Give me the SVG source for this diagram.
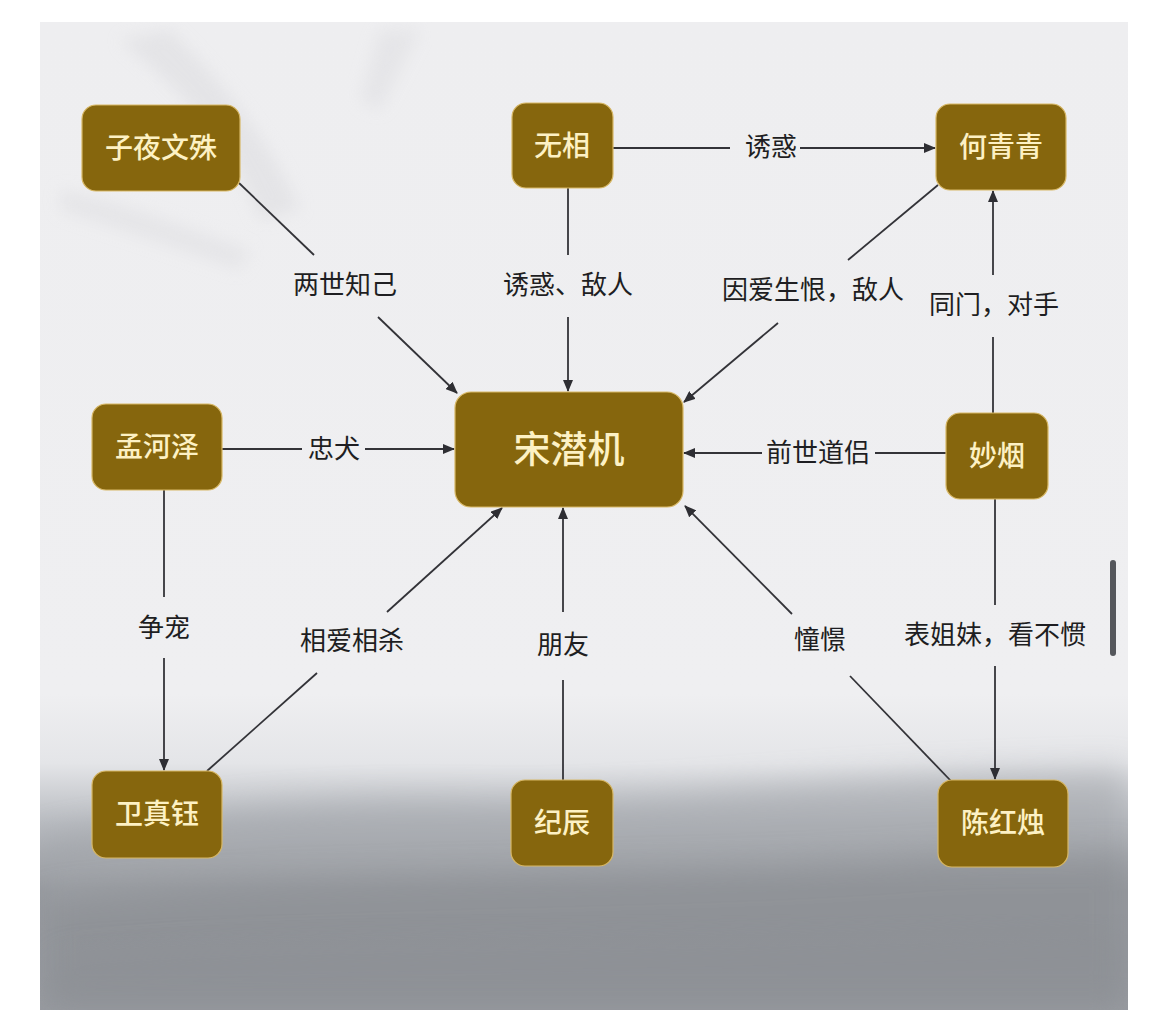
<svg xmlns="http://www.w3.org/2000/svg" width="1170" height="1023" viewBox="0 0 1170 1023">
<defs>
<linearGradient id="bg" x1="0" y1="0" x2="0" y2="1">
<stop offset="0" stop-color="#eeeef0"/>
<stop offset="0.68" stop-color="#efeff1"/>
<stop offset="0.75" stop-color="#e4e5e8"/>
<stop offset="0.81" stop-color="#b9bcc1"/>
<stop offset="0.88" stop-color="#94979c"/>
<stop offset="1" stop-color="#9a9da2"/>
</linearGradient>
<filter id="blur" x="-20%" y="-20%" width="140%" height="140%"><feGaussianBlur stdDeviation="16"/></filter>
<filter id="blur2" x="-20%" y="-20%" width="140%" height="140%"><feGaussianBlur stdDeviation="8"/></filter>
<clipPath id="panel"><rect x="40" y="22" width="1088" height="988"/></clipPath>
<marker id="arr" markerWidth="12" markerHeight="10" refX="11" refY="5" orient="auto" markerUnits="userSpaceOnUse">
<path d="M0,0 L12,5 L0,10 z" fill="#2e2e33"/>
</marker>
</defs>
<style>
.node rect.box{fill:#86660d;stroke:#d8b866;stroke-width:1.2}
.node text{font-family:"Noto Sans CJK SC","Noto Sans",sans-serif;font-size:28px;font-weight:500;fill:#fdf1c4;text-anchor:middle}
.edge line{stroke:#333338;stroke-width:1.8}
.lbl{font-family:"Noto Sans CJK SC","Noto Sans",sans-serif;font-size:26px;fill:#1e1e22;text-anchor:middle}
</style>
<rect width="1170" height="1023" fill="#ffffff"/>
<g id="background" clip-path="url(#panel)">
<rect x="40" y="22" width="1088" height="988" fill="url(#bg)"/>
<path d="M120,40 C180,90 230,140 260,220 L300,210 C270,140 220,80 170,30 z" fill="#dedee1" filter="url(#blur2)" opacity="0.6"/>
<path d="M60,210 C120,230 180,250 240,270 L250,250 C190,230 120,200 60,190 z" fill="#e0e0e3" filter="url(#blur2)" opacity="0.6"/>
<path d="M380,30 L420,30 L380,110 L360,100 z" fill="#e2e2e5" filter="url(#blur2)" opacity="0.7"/>
<path d="M40,840 C200,810 330,795 480,800 C650,805 800,775 1128,770 L1128,1010 L40,1010 z" fill="#a3a6ab" filter="url(#blur)" opacity="0.6"/>
<path d="M40,900 C300,870 600,880 900,860 C1000,850 1080,860 1128,850 L1128,1010 L40,1010 z" fill="#85888d" filter="url(#blur)" opacity="0.55"/>
<path d="M60,960 C300,940 600,950 1128,930 L1128,1010 L40,1010 z" fill="#8c8f94" filter="url(#blur)" opacity="0.5"/>
</g>
<rect x="1110" y="560" width="6" height="96" rx="3" fill="#55575c"/>
<g id="connectors" class="edge">
<line x1="239" y1="183" x2="314" y2="255"/>
<line x1="378" y1="317" x2="457" y2="393" marker-end="url(#arr)"/>
<line x1="568" y1="188" x2="568" y2="255"/>
<line x1="568" y1="317" x2="568" y2="391" marker-end="url(#arr)"/>
<line x1="613" y1="148" x2="730" y2="148"/>
<line x1="800" y1="148" x2="935" y2="148" marker-end="url(#arr)"/>
<line x1="938" y1="185" x2="848" y2="260"/>
<line x1="778" y1="323" x2="684" y2="402" marker-end="url(#arr)"/>
<line x1="993" y1="413" x2="993" y2="337"/>
<line x1="993" y1="275" x2="993" y2="191" marker-end="url(#arr)"/>
<line x1="222" y1="449" x2="302" y2="449"/>
<line x1="365" y1="449" x2="454" y2="449" marker-end="url(#arr)"/>
<line x1="946" y1="453" x2="875" y2="453"/>
<line x1="762" y1="453" x2="684" y2="453" marker-end="url(#arr)"/>
<line x1="164" y1="490" x2="164" y2="597"/>
<line x1="164" y1="658" x2="164" y2="770" marker-end="url(#arr)"/>
<line x1="207" y1="771" x2="317" y2="673"/>
<line x1="387" y1="612" x2="502" y2="508" marker-end="url(#arr)"/>
<line x1="563" y1="780" x2="563" y2="680"/>
<line x1="563" y1="612" x2="563" y2="508" marker-end="url(#arr)"/>
<line x1="951" y1="781" x2="850" y2="676"/>
<line x1="792" y1="614" x2="685" y2="506" marker-end="url(#arr)"/>
<line x1="995" y1="499" x2="995" y2="605"/>
<line x1="995" y1="666" x2="995" y2="779" marker-end="url(#arr)"/>
<text class="lbl" x="345" y="294">两世知己</text>
<text class="lbl" x="568" y="294">诱惑、敌人</text>
<text class="lbl" x="771" y="156">诱惑</text>
<text class="lbl" x="813" y="299">因爱生恨，敌人</text>
<text class="lbl" x="994" y="314">同门，对手</text>
<text class="lbl" x="334" y="458">忠犬</text>
<text class="lbl" x="818" y="462">前世道侣</text>
<text class="lbl" x="164" y="637">争宠</text>
<text class="lbl" x="352" y="650">相爱相杀</text>
<text class="lbl" x="563" y="654">朋友</text>
<text class="lbl" x="820" y="649">憧憬</text>
<text class="lbl" x="995" y="644">表姐妹，看不惯</text>
</g>
<g id="node-ziye" class="node"><rect class="box" x="82" y="105" width="158" height="86" rx="14"/><text x="161" y="158">子夜文殊</text></g>
<g id="node-wuxiang" class="node"><rect class="box" x="512" y="103" width="101" height="85" rx="14"/><text x="562" y="156">无相</text></g>
<g id="node-heqingqing" class="node"><rect class="box" x="936" y="104" width="130" height="86" rx="14"/><text x="1001" y="157">何青青</text></g>
<g id="node-songqianji" class="node"><rect class="box" x="455" y="392" width="228" height="115" rx="16"/><text x="569" y="463" style="font-size:37px">宋潜机</text></g>
<g id="node-menghoze" class="node"><rect class="box" x="92" y="404" width="130" height="86" rx="14"/><text x="157" y="457">孟河泽</text></g>
<g id="node-miaoyan" class="node"><rect class="box" x="946" y="413" width="102" height="86" rx="14"/><text x="997" y="466">妙烟</text></g>
<g id="node-weizhenyu" class="node"><rect class="box" x="92" y="771" width="130" height="87" rx="14"/><text x="157" y="824">卫真钰</text></g>
<g id="node-jichen" class="node"><rect class="box" x="511" y="780" width="102" height="86" rx="14"/><text x="562" y="833">纪辰</text></g>
<g id="node-chenhongzhu" class="node"><rect class="box" x="938" y="780" width="130" height="87" rx="14"/><text x="1003" y="833">陈红烛</text></g>
</svg>
